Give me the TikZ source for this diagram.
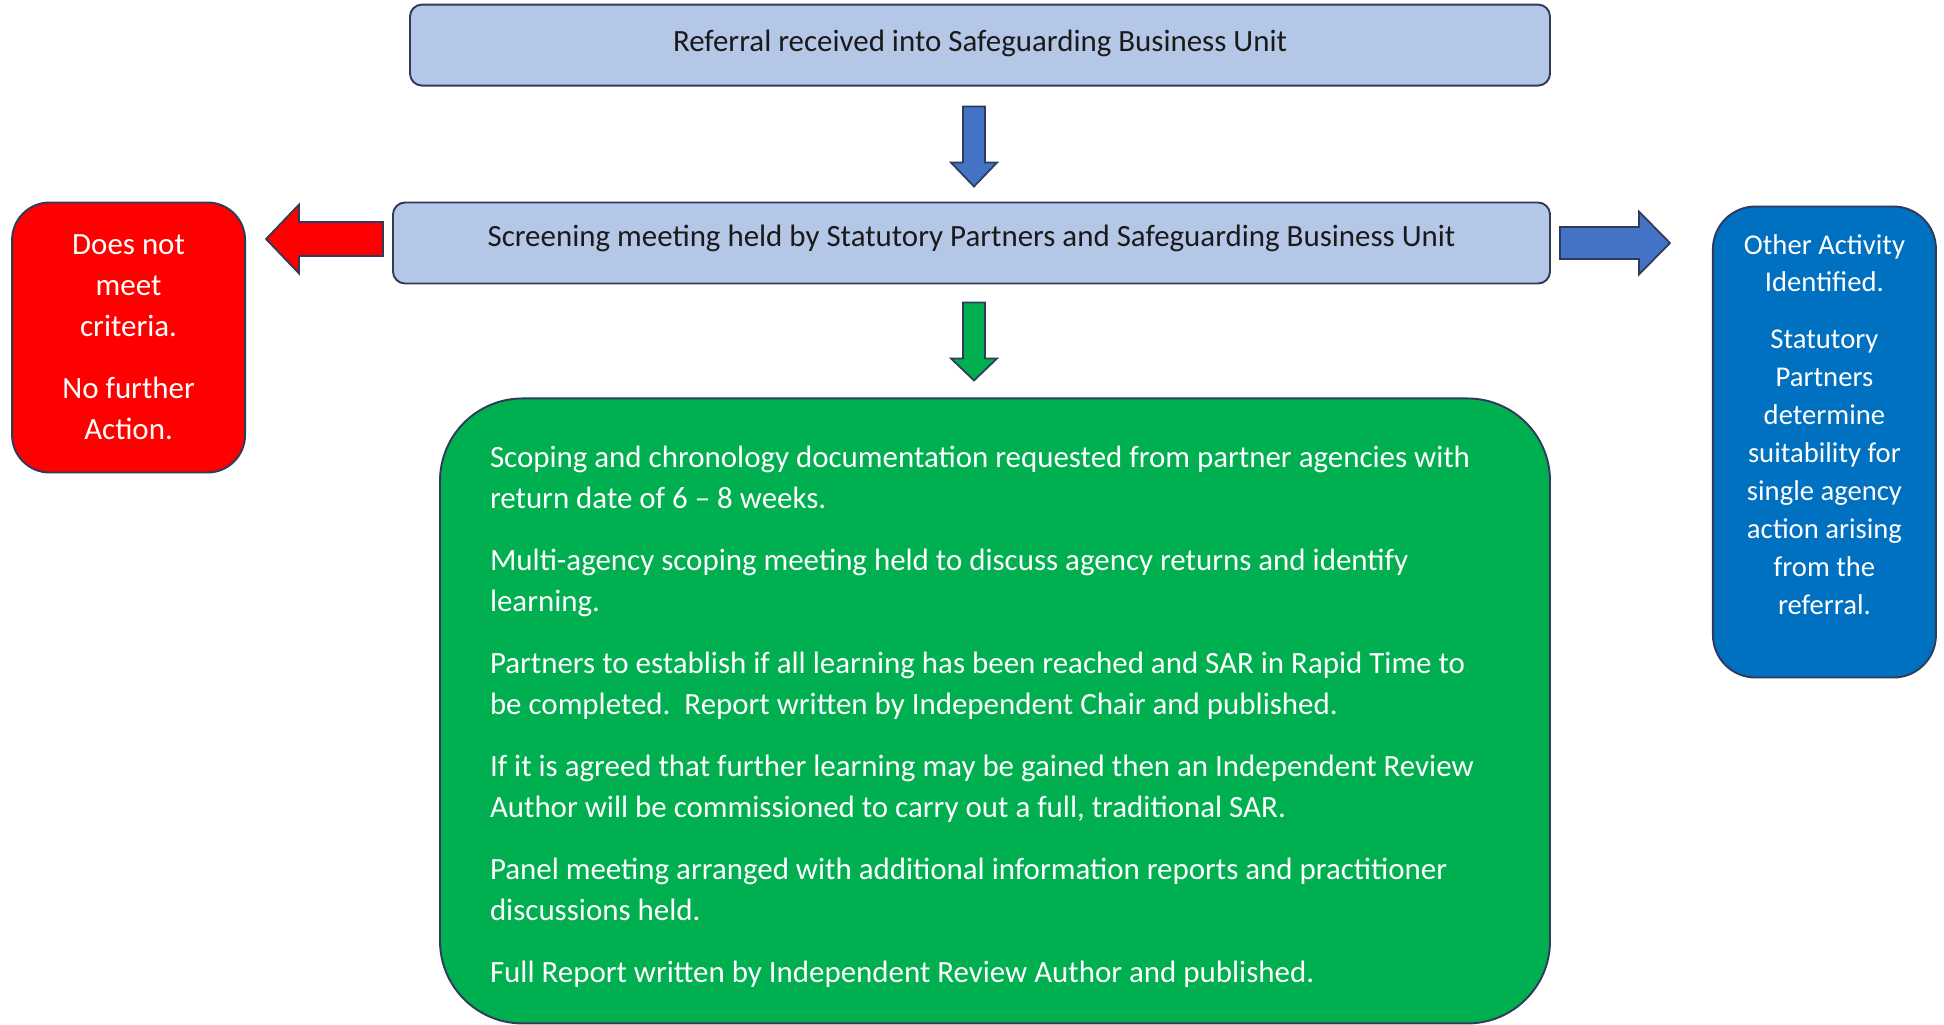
\documentclass[tikz,border=0pt]{standalone}
\usepackage{fontspec}
\setmainfont{Carlito}
\usepackage{xcolor}
\usetikzlibrary{positioning}
\definecolor{navy}{HTML}{2F3B5A}
\definecolor{palebl}{HTML}{B4C7E7}
\definecolor{boxred}{HTML}{FF0000}
\definecolor{boxgreen}{HTML}{00B050}
\definecolor{boxblue}{HTML}{0070C0}
\definecolor{arrblue}{HTML}{4472C4}
\definecolor{ink}{HTML}{1A1A1A}

\begin{document}
\begin{tikzpicture}[
  b/.style={draw=navy,line width=1.1pt,align=center,inner sep=0pt,font=\fontsize{17.6}{23.3}\selectfont},
  pb/.style={b,fill=palebl,text=ink,rounded corners=0.24cm,minimum height=1.62cm,text height=0.42cm,text depth=0.3cm},
  rb/.style={b,fill=boxred,text=white,rounded corners=0.75cm,minimum width=4.66cm,minimum height=5.4cm},
  gb/.style={b,fill=boxgreen,text=white,rounded corners=1.65cm,align=flush left,text width=20.2cm,minimum width=22.2cm,minimum height=12.5cm},
  ub/.style={b,fill=boxblue,text=white,rounded corners=0.85cm,align=flush center,text width=4.2cm,minimum width=4.46cm,minimum height=9.42cm,font=\fontsize{16.3}{21.6}\selectfont},
  ar/.style={draw=navy,line width=1pt},
  pics/blockarrow/.style args={#1/#2/#3/#4}{code={
    \path[pic actions] (0,-#2) -- ({#1-#4},-#2) -- ({#1-#4},-#3) -- (#1,0)
      -- ({#1-#4},#3) -- ({#1-#4},#2) -- (0,#2) -- cycle;}}]
\useasboundingbox (0,0) rectangle (38.88,-20.48);
\node[pb,minimum width=23.14cm] (scr) at (19.43,-4.86) {Screening meeting held by Statutory Partners and Safeguarding Business Unit};
\node[pb,minimum width=22.8cm,text depth=0.16cm,above left=2.3cm and 0cm of scr.north east] (ref) {Referral received into Safeguarding Business Unit};
\node[rb,below left=0cm and 2.92cm of scr.north west] (nfa) {Does not\\meet\\criteria.\\[0.42cm]No further\\Action.};
\node[ub,below right=0.08cm and 3.22cm of scr.north east] (other) {Other Activity\\Identified.\\[0.38cm]Statutory\\Partners\\determine\\suitability for\\single agency\\action arising\\from the\\referral.\par\vspace{0.7cm}};
\node[gb,below left=2.26cm and 0cm of scr.south east] (scope) {\rule{0pt}{0.66cm}Scoping and chronology documentation requested from partner agencies with\\
return date of 6 – 8 weeks.\\[0.42cm]
Multi-agency scoping meeting held to discuss agency returns and identify\\
learning.\\[0.42cm]
Partners to establish if all learning has been reached and SAR in Rapid Time to\\
be completed.\ \ Report written by Independent Chair and published.\\[0.42cm]
If it is agreed that further learning may be gained then an Independent Review\\
Author will be commissioned to carry out a full, traditional SAR.\\[0.42cm]
Panel meeting arranged with additional information reports and practitioner\\
discussions held.\\[0.42cm]
Full Report written by Independent Review Author and published.};
% block arrows between the boxes
\pic[ar,fill=arrblue,rotate=-90] at ([xshift=-0.12cm,yshift=-0.4cm]ref.south) {blockarrow=1.6/0.22/0.46/0.48};
\pic[ar,fill=boxgreen,rotate=-90] at ([xshift=0.05cm,yshift=-0.36cm]scr.south) {blockarrow=1.56/0.22/0.46/0.44};
\pic[ar,fill=boxred,rotate=180] at ([xshift=-0.18cm,yshift=0.08cm]scr.west) {blockarrow=2.34/0.34/0.69/0.66};
\pic[ar,fill=arrblue] at ([xshift=0.18cm]scr.east) {blockarrow=2.2/0.32/0.63/0.62};
\end{tikzpicture}
\end{document}
